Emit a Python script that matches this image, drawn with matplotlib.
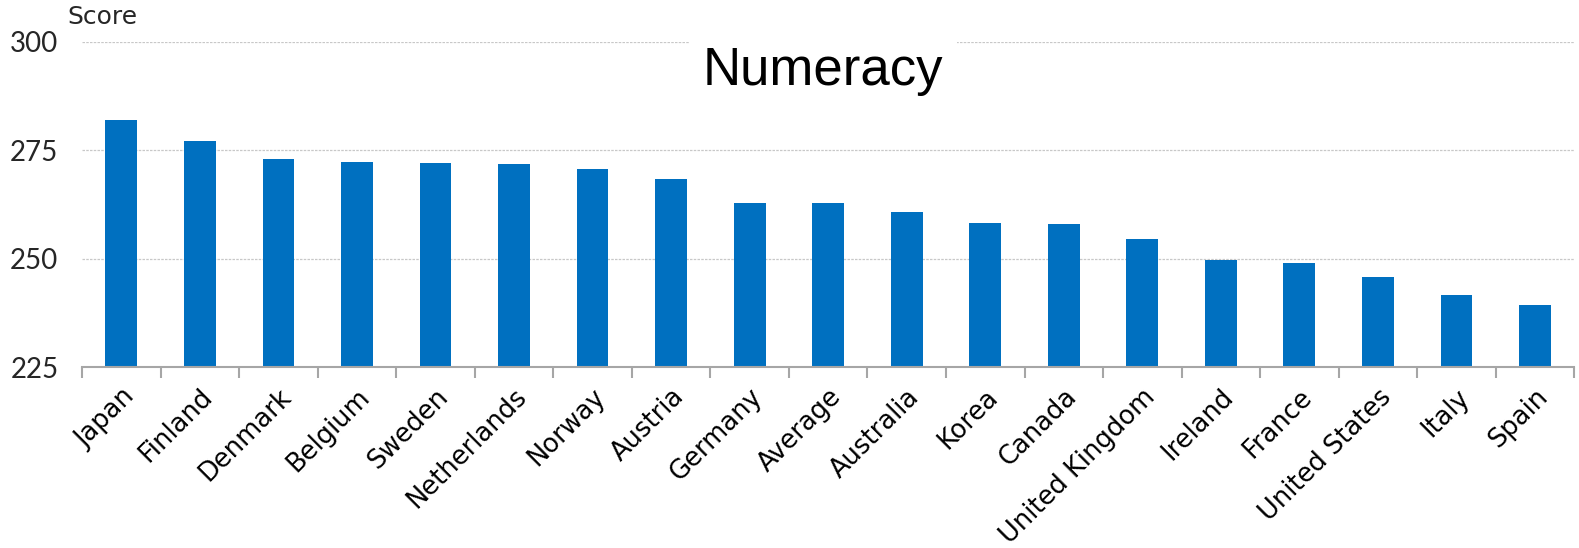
import numpy as np
from matplotlib import pyplot as plt

countries = ['Japan', 'Finland', 'Denmark', 'Belgium', 'Sweden', 'Netherlands',
             'Norway', 'Austria', 'Germany', 'Average', 'Australia', 'Korea',
             'Canada', 'United Kingdom', 'Ireland', 'France', 'United States',
             'Italy', 'Spain']
scores = [281.9, 277.0, 272.9, 272.2, 272.1, 271.9, 270.6, 268.3, 262.9,
          262.8, 260.7, 258.2, 258.1, 254.6, 249.7, 248.9, 245.8, 241.6, 239.4]
yticks = [225, 250, 275, 300]

bar_color = '#0070C0'
label_font = 'DejaVu Sans'

fig = plt.figure(figsize=(15.79, 5.48), dpi=100)
ax = fig.add_axes([0.052, 0.330, 0.945, 0.594])

x = np.arange(len(countries))
ax.bar(x, scores, width=0.405, color=bar_color, zorder=2)

ax.set_xlim(-0.5, len(countries) - 0.5)
ax.set_ylim(225, 300)
ax.set_yticks(yticks)
ax.set_yticklabels([str(v) for v in yticks], fontsize=20, family='Lato',
                   color='#262626')
ax.tick_params(axis='y', length=0, pad=17)

# category ticks sit between the bars
ax.set_xticks(np.arange(len(countries) + 1) - 0.5, minor=False)
ax.set_xticklabels([])
ax.tick_params(axis='x', length=8, width=1.5, color='#a6a6a6', direction='out')
ax.set_xticks(x, minor=True)
ax.set_xticklabels(countries, minor=True, rotation=45, ha='right',
                   rotation_mode='anchor', fontsize=18.5, family=label_font)
ax.tick_params(axis='x', which='minor', length=0, pad=12)

ax.grid(axis='y', color='#c8c8c8', linestyle=(0, (2, 1)), linewidth=0.9, zorder=0)

for side in ['top', 'right', 'left']:
    ax.spines[side].set_visible(False)
ax.spines['bottom'].set_color('#a6a6a6')
ax.spines['bottom'].set_linewidth(1.5)

fig.text(0.0425, 0.99, 'Score', fontsize=18, family=label_font,
         ha='left', va='top', color='#262626')
fig.text(0.521, 0.87, 'Numeracy', fontsize=38, family='Liberation Sans',
         ha='center', va='center', color='black',
         bbox=dict(facecolor='white', edgecolor='none', pad=10))

fig.savefig('out.png', dpi=100)
